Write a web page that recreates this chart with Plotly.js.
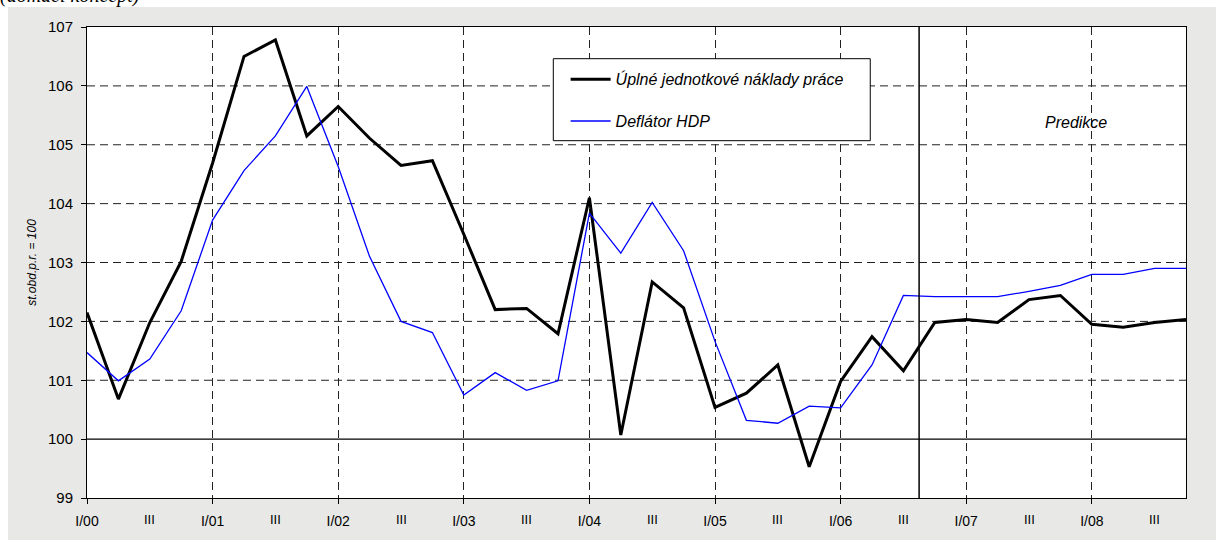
<!DOCTYPE html>
<html>
<head>
<meta charset="utf-8">
<script src="https://cdn.plot.ly/plotly-3.0.1.min.js"></script>
<style>
  html, body { margin: 0; padding: 0; background: #ffffff; }
  #bg { position: absolute; left: 8px; top: 7px; width: 1208px; height: 533px; background: #e8e8e6; }
  #chart { position: absolute; left: 0; top: 0; width: 1216px; height: 540px; }
</style>
</head>
<body>
<div id="bg"></div>
<div id="chart"></div>
<script>
// Quarters I/00 .. IV/08
const quarters = [
  "I/00","II/00","III/00","IV/00",
  "I/01","II/01","III/01","IV/01",
  "I/02","II/02","III/02","IV/02",
  "I/03","II/03","III/03","IV/03",
  "I/04","II/04","III/04","IV/04",
  "I/05","II/05","III/05","IV/05",
  "I/06","II/06","III/06","IV/06",
  "I/07","II/07","III/07","IV/07",
  "I/08","II/08","III/08","IV/08"
];

// Úplné jednotkové náklady práce (st.obd.p.r. = 100)
const ulc = [
  102.15, 100.68, 101.98, 103.02,
  104.69, 106.50, 106.78, 105.15,
  105.65, 105.11, 104.65, 104.73,
  103.48, 102.20, 102.22, 101.79,
  104.10, 100.07, 102.67, 102.23,
  100.54, 100.78, 101.26, 99.53,
  100.98, 101.74, 101.16, 101.98,
  102.03, 101.98, 102.37, 102.44,
  101.95, 101.90, 101.98, 102.03
];

// Deflátor HDP
const deflator = [
  101.47, 100.99, 101.36, 102.18,
  103.72, 104.56, 105.15, 105.99,
  104.63, 103.10, 102.00, 101.81,
  100.75, 101.13, 100.83, 100.99,
  103.84, 103.16, 104.02, 103.20,
  101.66, 100.32, 100.27, 100.56,
  100.53, 101.26, 102.44, 102.42,
  102.42, 102.42, 102.51, 102.61,
  102.80, 102.80, 102.90, 102.90
];

// Axis tick labels
const yearTickVals = ["I/00","I/01","I/02","I/03","I/04","I/05","I/06","I/07","I/08"];
const yearTickText = ["I/00","I/01","I/02","I/03","I/04","I/05","I/06","I/07","I/08"];
const midTickVals  = ["III/00","III/01","III/02","III/03","III/04","III/05","III/06","III/07","III/08"];
const midTickText  = "III";
const yTickVals = [99,100,101,102,103,104,105,106,107];
const yGridVals = [101,102,103,104,105,106];

const seriesNames = ["Úplné jednotkové náklady práce", "Deflátor HDP"];
const forecastStart = 26.5;   // boundary between actual data and prediction
const baseLevel = 100;
const forecastLabel = "Predikce";
const yTitle = "st.obd.p.r. = 100";
const topNote = "(domácí koncept)";

const font = "Liberation Sans, Arial, sans-serif";

const traces = [
  {
    x: quarters, y: ulc, type: "scatter", mode: "lines",
    name: seriesNames[0], legendgroup: "a",
    line: { color: "#000000", width: 3 }
  },
  {
    x: quarters, y: deflator, type: "scatter", mode: "lines",
    name: seriesNames[1], legendgroup: "b",
    line: { color: "#0000ff", width: 1.3 }
  }
];

const annotations = midTickVals.map(q => ({
  x: q, xref: "x", y: 0, yref: "paper",
  text: midTickText, showarrow: false,
  xanchor: "center", yanchor: "top", yshift: -12,
  font: { family: font, size: 13, color: "#000" }
}));
annotations.push({
  x: 31.5, xref: "x", y: 105.38, yref: "y",
  text: forecastLabel, showarrow: false,
  xanchor: "center", yanchor: "middle",
  font: { family: font, size: 16, color: "#000", style: "italic" }
});
annotations.push({
  x: 0, xref: "paper", xshift: -89, y: 1, yref: "paper", yshift: 18,
  text: topNote, showarrow: false,
  xanchor: "left", yanchor: "bottom",
  font: { family: "Liberation Serif, Times New Roman, serif", size: 20, color: "#000", style: "italic" }
});

const layout = {
  width: 1216, height: 540,
  margin: { l: 87, r: 30, t: 27, b: 42 },
  paper_bgcolor: "rgba(0,0,0,0)",
  plot_bgcolor: "#ffffff",
  showlegend: true,
  legend: {
    x: 0.4355, y: 0.925, xanchor: "left", yanchor: "top",
    bgcolor: "rgba(0,0,0,0)", borderwidth: 0,
    traceorder: "grouped", tracegroupgap: 18,
    itemwidth: 40,
    font: { family: font, size: 16, color: "#000", style: "italic" }
  },
  xaxis: {
    type: "category",
    range: [0, 35],
    tickmode: "array", tickvals: yearTickVals, ticktext: yearTickText,
    ticks: "outside", ticklen: 5, tickcolor: "#000", tickwidth: 1,
    ticklabelstandoff: 5,
    showgrid: true, gridcolor: "#222", gridwidth: 1, griddash: "8px,5px",
    showline: true, linecolor: "#000", linewidth: 1, mirror: true,
    zeroline: false,
    tickfont: { family: font, size: 14, color: "#000" },
    fixedrange: true
  },
  yaxis: {
    range: [99, 107],
    tickmode: "array", tickvals: yTickVals,
    ticks: "outside", ticklen: 5, tickcolor: "#000", tickwidth: 1,
    ticklabelstandoff: 5,
    showgrid: false,
    showline: true, linecolor: "#000", linewidth: 1, mirror: true,
    zeroline: false,
    tickfont: { family: font, size: 15, color: "#000" },
    title: { text: yTitle, standoff: 8, font: { family: font, size: 12, color: "#000", style: "italic" } },
    fixedrange: true
  },
  shapes: [
    ...yGridVals.map(v => ({
      type: "line", xref: "paper", x0: 0, x1: 1, yref: "y", y0: v, y1: v,
      line: { color: "#222", width: 1, dash: "8px,5px" }, layer: "below"
    })),
    {
      type: "line", xref: "paper", x0: 0, x1: 1, yref: "y", y0: baseLevel, y1: baseLevel,
      line: { color: "#000", width: 1.2 }, layer: "below"
    },
    {
      type: "line", xref: "x", x0: forecastStart, x1: forecastStart, yref: "paper", y0: 0, y1: 1,
      line: { color: "#000", width: 1.5 }, layer: "above"
    },
    {
      type: "rect", xref: "paper", yref: "paper",
      x0: 0.4243, x1: 0.7127, y0: 0.7586, y1: 0.9327,
      fillcolor: "#ffffff", line: { color: "#000", width: 1 }, layer: "above"
    }
  ],
  annotations: annotations
};

Plotly.newPlot("chart", traces, layout, { displayModeBar: false, staticPlot: true });
</script>
</body>
</html>
